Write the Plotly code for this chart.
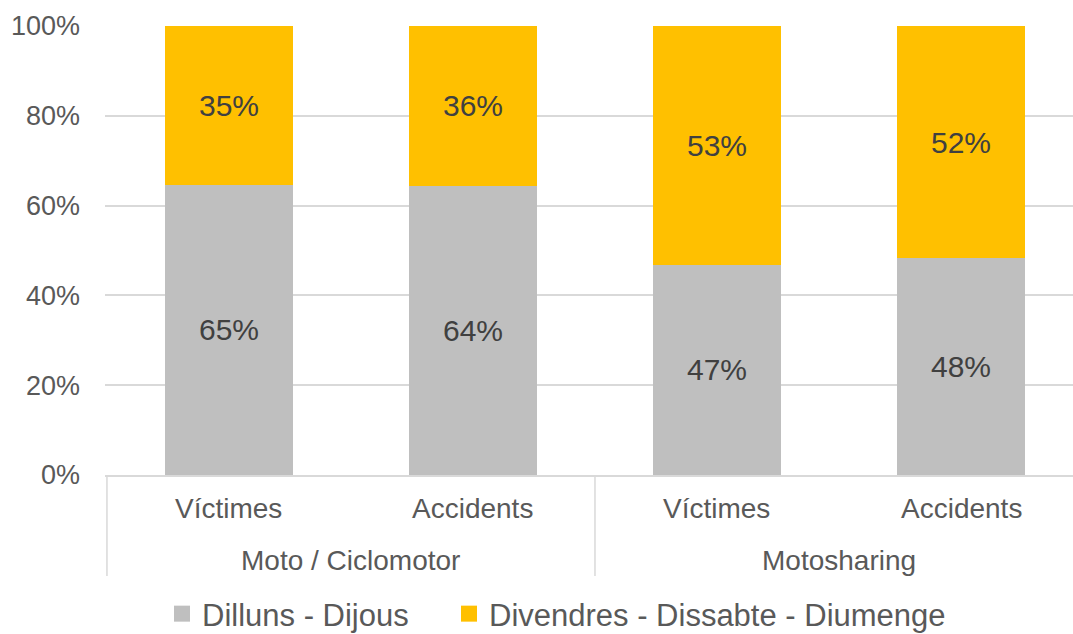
import plotly.graph_objects as go

groups = ["Moto / Ciclomotor", "Moto / Ciclomotor", "Motosharing", "Motosharing"]
subcats = ["Víctimes", "Accidents", "Víctimes", "Accidents"]
weekday = [64.6, 64.4, 46.8, 48.3]
weekend = [35.4, 35.6, 53.2, 51.7]
series_names = ["Dilluns - Dijous", "Divendres - Dissabte - Diumenge"]
colors = ["#BFBFBF", "#FFC000"]

FONT = "Liberation Sans, Arial, sans-serif"
TXT = "#595959"
LINE = "#D9D9D9"
W, H = 1073, 634
L, T, B = 105, 26, 159
PH = H - T - B

fig = go.Figure()
for name, vals, col in zip(series_names, [weekday, weekend], colors):
    fig.add_trace(go.Bar(
        x=[groups, subcats], y=vals, name=name,
        marker=dict(color=col, line=dict(width=0)),
        texttemplate="%{y:.0f}%", textposition="inside",
        insidetextanchor="middle",
        textfont=dict(size=30, color="#404040", family=FONT),
        width=0.525, showlegend=False,
    ))
# legend entries (one legend per entry for exact placement)
for i, (name, col) in enumerate(zip(series_names, colors)):
    fig.add_trace(go.Scatter(
        x=[[groups[0]], [subcats[0]]], y=[None], mode="markers", name=name,
        marker=dict(symbol="square", size=16, color=col), hoverinfo="skip",
        legend="legend" if i == 0 else "legend2",
    ))

def py(pix):
    return (H - B - pix) / PH

annotations = []
for i, s in enumerate(subcats):
    annotations.append(dict(x=i, y=py(508), xref="x", yref="paper", text=s,
                            showarrow=False, yanchor="middle",
                            font=dict(size=28, color=TXT, family=FONT)))
ugroups = list(dict.fromkeys(groups))
shapes = []
for g in ugroups:
    idx = [i for i, gg in enumerate(groups) if gg == g]
    annotations.append(dict(x=sum(idx) / len(idx), y=py(560), xref="x", yref="paper", text=g,
                            showarrow=False, yanchor="middle",
                            font=dict(size=28, color=TXT, family=FONT)))
    shapes.append(dict(type="line", xref="x", yref="paper", x0=idx[0] - 0.5, x1=idx[0] - 0.5,
                       y0=0, y1=py(576), line=dict(color=LINE, width=1.5)))

leg_common = dict(orientation="h", yref="container", y=1 - 614 / H, yanchor="middle",
                  xref="container", xanchor="left", font=dict(size=31, color=TXT, family=FONT),
                  itemwidth=30, bgcolor="rgba(0,0,0,0)", borderwidth=0)
fig.update_layout(
    barmode="stack",
    width=W, height=H,
    margin=dict(l=L, r=0, t=T, b=B, autoexpand=False),
    paper_bgcolor="white", plot_bgcolor="white",
    font=dict(family=FONT, size=27, color=TXT),
    showlegend=True,
    legend=dict(x=162 / W, **leg_common),
    legend2=dict(x=449 / W, **leg_common),
    annotations=annotations, shapes=shapes,
)
fig.update_xaxes(
    type="multicategory", range=[-0.508, 3.459], automargin=False,
    showline=True, linecolor=LINE, linewidth=1.5,
    showdividers=False, showticklabels=False, showgrid=False,
)
fig.update_yaxes(
    range=[0, 100], dtick=20, ticksuffix="%", automargin=False,
    showgrid=True, gridcolor=LINE, gridwidth=1.5, zeroline=False,
    tickfont=dict(size=27, color=TXT), ticklabelstandoff=24,
)
fig.write_html("out.html", config={"displayModeBar": False},
               post_script="document.body.style.margin='0';")
